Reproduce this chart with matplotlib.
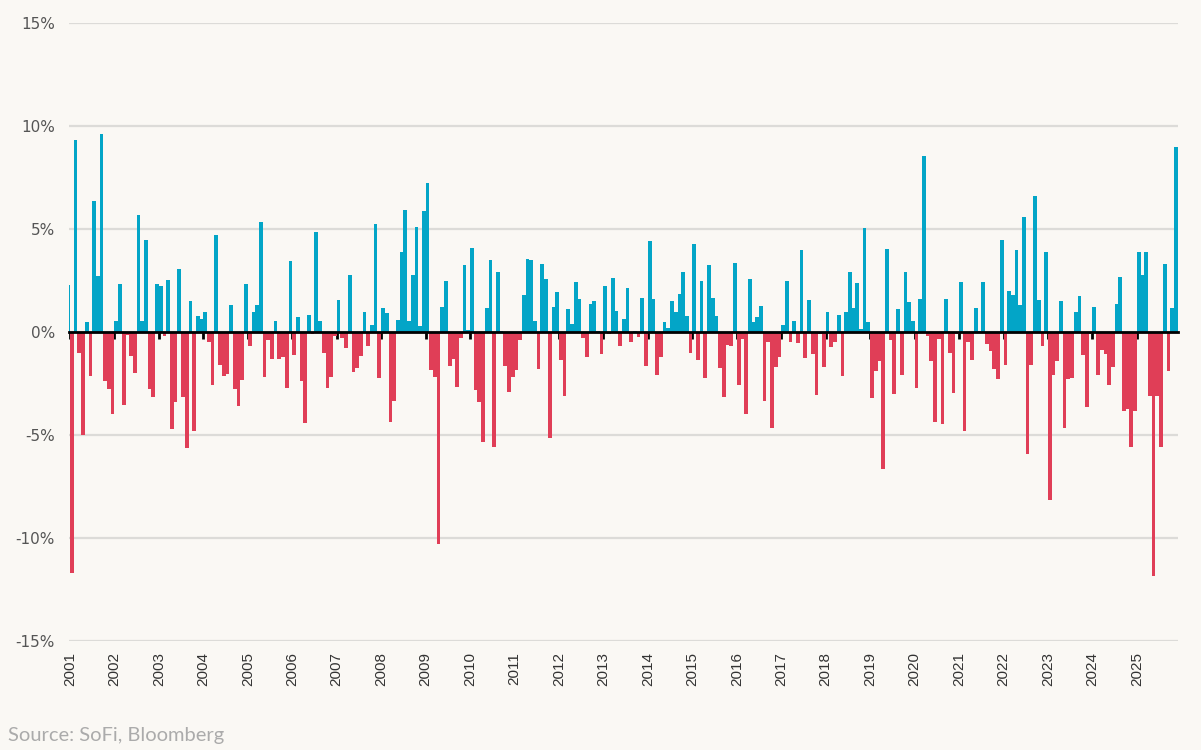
import numpy as np
import matplotlib.pyplot as plt

# monthly returns in % (Dec 2000 .. Nov 2025)
r2000 = [2.3]  # only December visible
r2001 = [-11.7, 9.3, -1.0, -5.0, 0.5, -2.15, 6.37, 2.7, 9.61, -2.39, -2.79, -4.0]
r2002 = [0.52, 2.34, -3.52, -0.15, -1.15, -1.99, 5.69, 0.55, 4.47, -2.76, -3.15, 2.34]
r2003 = [2.25, -0.21, 2.54, -4.7, -3.41, 3.07, -3.15, -5.62, 1.52, -4.81, 0.76, 0.65]
r2004 = [0.99, -0.5, -2.55, 4.72, -1.58, -2.15, -2.02, 1.32, -2.79, -3.6, -2.34, 2.34]
r2005 = [-0.69, 0.99, 1.32, 5.33, -2.18, -0.37, -1.31, 0.55, -1.31, -1.2, -2.71, 3.46]
r2006 = [-1.11, 0.74, -2.39, -4.41, 0.84, -0.1, 4.85, 0.55, -1.02, -2.71, -2.18, -0.2]
r2007 = [1.57, -0.29, -0.78, 2.78, -1.95, -1.74, -1.18, 0.99, -0.66, 0.36, 5.25, -2.23]
r2008 = [1.16, 0.92, -4.38, -3.33, 0.6, 3.86, 5.93, 0.52, 2.75, 5.12, 0.31, 5.85]
r2009 = [7.25, -1.86, -2.18, -10.27, 1.21, 2.49, -1.66, -1.31, -2.68, -0.29, 3.26, 0.11]
r2010 = [4.1, -2.83, -3.41, -5.35, 1.16, 3.51, -5.59, 2.91, 0.06, -1.63, -2.92, -2.2]
r2011 = [-1.86, -0.37, 1.81, 3.54, 3.51, 0.52, -1.79, 3.31, 2.58, -5.14, 1.21, 1.92]
r2012 = [-1.37, -3.09, 1.13, 0.4, 2.41, 1.62, -0.29, -1.23, 1.37, 1.52, 0.05, -1.07]
r2013 = [2.21, -0.1, 2.62, 1.0, -0.69, 0.65, 2.13, -0.5, 0.05, -0.24, 1.65, -1.66]
r2014 = [4.43, 1.6, -2.07, -1.23, 0.47, 0.19, 1.49, 0.95, 1.86, 2.92, 0.76, -1.02]
r2015 = [4.28, -1.37, 2.49, -2.23, 3.26, 1.65, 0.76, -1.74, -3.17, -0.61, -0.66, 3.34]
r2016 = [-2.58, -0.34, -4.0, 2.57, 0.47, 0.73, 1.28, -3.36, -0.5, -4.65, -1.71, -1.21]
r2017 = [0.36, 2.49, -0.5, 0.55, -0.53, 3.99, -1.26, 1.57, -1.07, -3.07, -0.1, -1.71]
r2018 = [0.95, -0.74, -0.5, 0.84, -2.15, 0.99, 2.89, 1.15, 2.37, 0.16, 5.07, 0.47]
r2019 = [-3.2, -1.91, -1.42, -6.64, 4.02, -0.4, -3.0, 1.13, -2.07, 2.91, 1.44, 0.55]
r2020 = [-2.71, 1.62, 8.55, -0.18, -1.42, -4.38, -0.34, -4.46, 1.62, -1.02, -2.96, -0.1]
r2021 = [2.41, -4.81, -0.5, -1.34, 1.16, 0.05, 2.42, -0.58, -0.9, -1.79, -2.28, 4.47]
r2022 = [-1.62, 2.0, 1.81, 3.99, 1.29, 5.56, -5.91, -1.62, 6.61, 1.57, -0.66, 3.86]
r2023 = [-8.17, -2.1, -1.42, 1.49, -4.65, -2.26, -2.23, 0.95, 1.76, -1.13, -3.63, -0.1]
r2024 = [1.21, -2.07, -0.86, -1.07, -2.58, -1.71, 1.37, 2.68, -3.85, -3.76, -5.59, -3.85]
r2025 = [3.88, 2.78, 3.88, -3.09, -11.84, -3.09, -5.59, 3.31, -1.91, 1.16, 9.0]

years = list(range(2001, 2026))
y_ticks = [-15, -10, -5, 0, 5, 10, 15]

returns = np.array(r2000 + r2001 + r2002 + r2003 + r2004 + r2005 + r2006 + r2007
                   + r2008 + r2009 + r2010 + r2011 + r2012 + r2013 + r2014 + r2015
                   + r2016 + r2017 + r2018 + r2019 + r2020 + r2021 + r2022 + r2023
                   + r2024 + r2025)
x = np.arange(len(returns)) - 1  # Jan 2001 = 0

bg = '#FAF8F4'
blue = '#03A5C7'
red = '#E03E57'

fig = plt.figure(figsize=(12.01, 7.5), dpi=100, facecolor=bg)
ax = fig.add_axes([69/1201, 1 - 641/750, (1178 - 69)/1201, (641 - 23)/750])
ax.set_facecolor(bg)

colors = [blue if v >= 0 else red for v in returns]
ax.bar(x, returns, width=1.0, color=colors, linewidth=0, zorder=2)

### Layout:
ax.set_ylim(-15, 15)
ax.set_xlim(-0.77, len(returns) - 1.4)
ax.set_yticks(y_ticks)
ax.set_yticklabels([f"{v}%" for v in y_ticks])
ax.tick_params(axis='y', length=0, pad=10, labelsize=11, labelcolor='#555555')
ax.grid(True, axis='y', color='#DCDBD8', linewidth=1.6, zorder=0)
ax.set_axisbelow(True)

for s in ['top', 'right', 'left']:
    ax.spines[s].set_visible(False)
ax.spines['bottom'].set_position(('data', 0))
ax.spines['bottom'].set_color('black')
ax.spines['bottom'].set_linewidth(2)
ax.spines['bottom'].set_zorder(3)

tick_pos = [12 * k - 0.5 for k in range(len(years))]
ax.set_xticks(tick_pos)
ax.tick_params(axis='x', direction='out', length=5, width=2, color='black', labelbottom=False)

sec = ax.secondary_xaxis('bottom')
sec.set_xticks(tick_pos)
sec.set_xticklabels([str(y) for y in years], rotation=90,
                    family=['Liberation Sans Narrow', 'Liberation Sans'], fontsize=11, color='#333333')
sec.tick_params(length=0, pad=8)
sec.spines['bottom'].set_visible(False)

fig.text(8/1201, 1 - 736/750, "Source: SoFi, Bloomberg", va='center', ha='left',
         color='#ABABAB', fontsize=14.5, family='Lato')

plt.savefig('out.png', dpi=100, facecolor=bg)
